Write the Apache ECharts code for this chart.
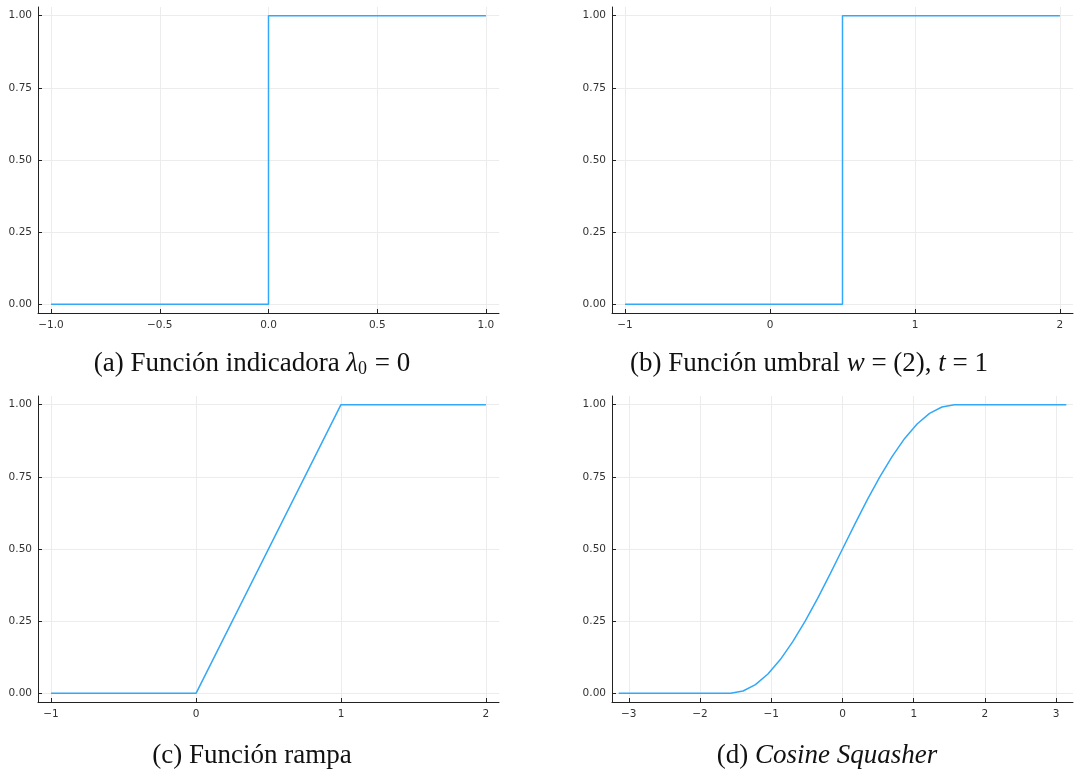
<!DOCTYPE html>
<html>
<head>
<meta charset="utf-8">
<script src="https://cdn.jsdelivr.net/npm/echarts@6/dist/echarts.min.js"></script>
<style>html,body{margin:0;padding:0;background:#fff}#c{width:1076px;height:771px}</style>
</head>
<body>
<div id="c"></div>
<script>
// (a) indicator function
const aX = [-1, 0, 0, 1];
const aY = [0, 0, 1, 1];
// (b) threshold w=(2), t=1
const bX = [-1, 0.5, 0.5, 2];
const bY = [0, 0, 1, 1];
// (c) ramp
const cX = [-1, 0, 1, 2];
const cY = [0, 0, 1, 1];
// (d) cosine squasher
const dX = [-3.142, -2.967, -2.793, -2.618, -2.443, -2.269, -2.094, -1.920, -1.745, -1.571,
            -1.396, -1.222, -1.047, -0.873, -0.698, -0.524, -0.349, -0.175, 0,
            0.175, 0.349, 0.524, 0.698, 0.873, 1.047, 1.222, 1.396, 1.571,
            1.745, 1.920, 2.094, 2.269, 2.443, 2.618, 2.793, 2.967, 3.142];
const dY = [0, 0, 0, 0, 0, 0, 0, 0, 0, 0,
            0.008, 0.030, 0.067, 0.117, 0.179, 0.250, 0.329, 0.413, 0.500,
            0.587, 0.671, 0.750, 0.821, 0.883, 0.933, 0.970, 0.992, 1,
            1, 1, 1, 1, 1, 1, 1, 1, 1];

const yTicks = [0, 0.25, 0.5, 0.75, 1];
const aTicks = [-1, -0.5, 0, 0.5, 1];
const bTicks = [-1, 0, 1, 2];
const cTicks = [-1, 0, 1, 2];
const dTicks = [-3, -2, -1, 0, 1, 2, 3];

const captions = [
  '(a) Función indicadora {m|λ}{s|0} = 0',
  '(b) Función umbral {m|w} = (2), {m|t} = 1',
  '(c) Función rampa',
  '(d) {m|Cosine Squasher}'
];

const LINE = '#33A8F8';
const fmt = (d) => (v) => (v < 0 ? '\u2212' : '') + Math.abs(v).toFixed(d);

function xAxis(idx, min, max, ticks, dec) {
  return {
    type: 'value', gridIndex: idx, min: min, max: max,
    axisLine: {show: true, onZero: false, lineStyle: {color: '#222', width: 1}},
    axisTick: {show: true, inside: true, length: 4, customValues: ticks, lineStyle: {color: '#222'}},
    axisLabel: {customValues: ticks, formatter: fmt(dec), fontSize: 10.5, color: '#333', margin: 7, fontFamily: 'DejaVu Sans'},
    splitLine: {show: true, lineStyle: {color: '#ececec', width: 1}}
  };
}
function yAxis(idx) {
  return {
    type: 'value', gridIndex: idx, min: -0.03, max: 1.03,
    axisLine: {show: true, onZero: false, lineStyle: {color: '#222', width: 1}},
    axisTick: {show: true, inside: true, length: 4, customValues: yTicks, lineStyle: {color: '#222'}},
    axisLabel: {customValues: yTicks, formatter: fmt(2), fontSize: 10.5, color: '#333', margin: 6, fontFamily: 'DejaVu Sans'},
    splitLine: {show: true, lineStyle: {color: '#ececec', width: 1}}
  };
}
function series(idx, xs, ys) {
  return {
    type: 'line', xAxisIndex: idx, yAxisIndex: idx,
    data: xs.map((x, i) => [x, ys[i]]),
    showSymbol: false, symbol: 'none',
    lineStyle: {color: LINE, width: 1.5},
    animation: false
  };
}
const rich = {
  m: {fontFamily: 'Liberation Serif', fontStyle: 'italic', fontSize: 27, fill: '#111'},
  s: {fontFamily: 'Liberation Serif', fontSize: 18, fill: '#111', verticalAlign: 'bottom', padding: [11, 1, 0, 0]}
};
function caption(txt, cx, cy) {
  return {
    type: 'text', x: cx, y: cy,
    style: {
      text: txt, rich: rich, align: 'center', verticalAlign: 'middle',
      fontFamily: 'Liberation Serif', fontSize: 27, fill: '#111'
    }
  };
}

const chart = echarts.init(document.getElementById('c'), null, {renderer: 'canvas'});
chart.setOption({
  animation: false,
  backgroundColor: '#fff',
  grid: [
    {left: 38, top: 7, width: 461, height: 306},
    {left: 612, top: 7, width: 461, height: 306},
    {left: 38, top: 396, width: 461, height: 306},
    {left: 612, top: 396, width: 461, height: 306}
  ],
  xAxis: [
    xAxis(0, -1.06, 1.06, aTicks, 1),
    xAxis(1, -1.09, 2.09, bTicks, 0),
    xAxis(2, -1.09, 2.09, cTicks, 0),
    xAxis(3, -3.236, 3.236, dTicks, 0)
  ],
  yAxis: [yAxis(0), yAxis(1), yAxis(2), yAxis(3)],
  series: [
    series(0, aX, aY),
    series(1, bX, bY),
    series(2, cX, cY),
    series(3, dX, dY)
  ],
  graphic: [
    caption(captions[0], 252, 364),
    caption(captions[1], 809, 364),
    caption(captions[2], 252, 756),
    caption(captions[3], 827, 756)
  ]
});
</script>
</body>
</html>
